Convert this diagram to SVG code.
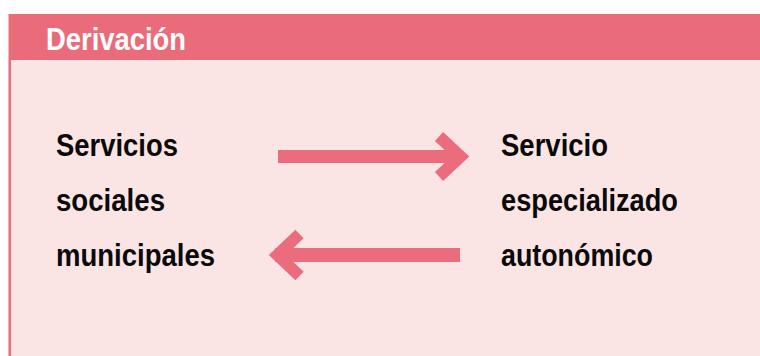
<svg xmlns="http://www.w3.org/2000/svg" width="760" height="356" viewBox="0 0 760 356">
<style>
.lbl{font-family:"Liberation Sans",Arial,sans-serif;font-weight:bold;font-size:31px;fill:#0a0a0a}
.hdr{font-family:"Liberation Sans",Arial,sans-serif;font-weight:bold;font-size:31px;fill:#fff}
.shaft{fill:#EB6C7C}
.head{fill:none;stroke:#EB6C7C;stroke-width:12;stroke-linejoin:miter;stroke-miterlimit:4}
</style>
<rect x="0" y="0" width="760" height="356" fill="#fff"/>
<g id="panel">
<rect x="8.5" y="60" width="751.5" height="296" fill="#FAE5E4"/>
<rect x="8.5" y="60" width="2.5" height="296" fill="#EB6C7C"/>
<rect x="8.5" y="14" width="751.5" height="46" fill="#EA6C7B"/>
<text class="hdr" x="46" y="49.5" textLength="140" lengthAdjust="spacingAndGlyphs">Derivación</text>
</g>
<g id="node-municipal">
<text class="lbl" x="56" y="155.5" textLength="122" lengthAdjust="spacingAndGlyphs">Servicios</text>
<text class="lbl" x="56" y="210.5" textLength="109" lengthAdjust="spacingAndGlyphs">sociales</text>
<text class="lbl" x="56" y="266" textLength="159" lengthAdjust="spacingAndGlyphs">municipales</text>
</g>
<g id="node-autonomico">
<text class="lbl" x="501" y="155.5" textLength="107" lengthAdjust="spacingAndGlyphs">Servicio</text>
<text class="lbl" x="501" y="210.5" textLength="177" lengthAdjust="spacingAndGlyphs">especializado</text>
<text class="lbl" x="501" y="266" textLength="152" lengthAdjust="spacingAndGlyphs">autonómico</text>
</g>
<g id="connectors">
<rect class="shaft" x="278" y="150" width="180" height="13"/>
<polyline class="head" points="439,136.5 460.5,156.5 439,176.5"/>
<rect class="shaft" x="275" y="248" width="185" height="14"/>
<polyline class="head" points="299.5,234 277.5,255 299.5,276"/>
</g>
</svg>
